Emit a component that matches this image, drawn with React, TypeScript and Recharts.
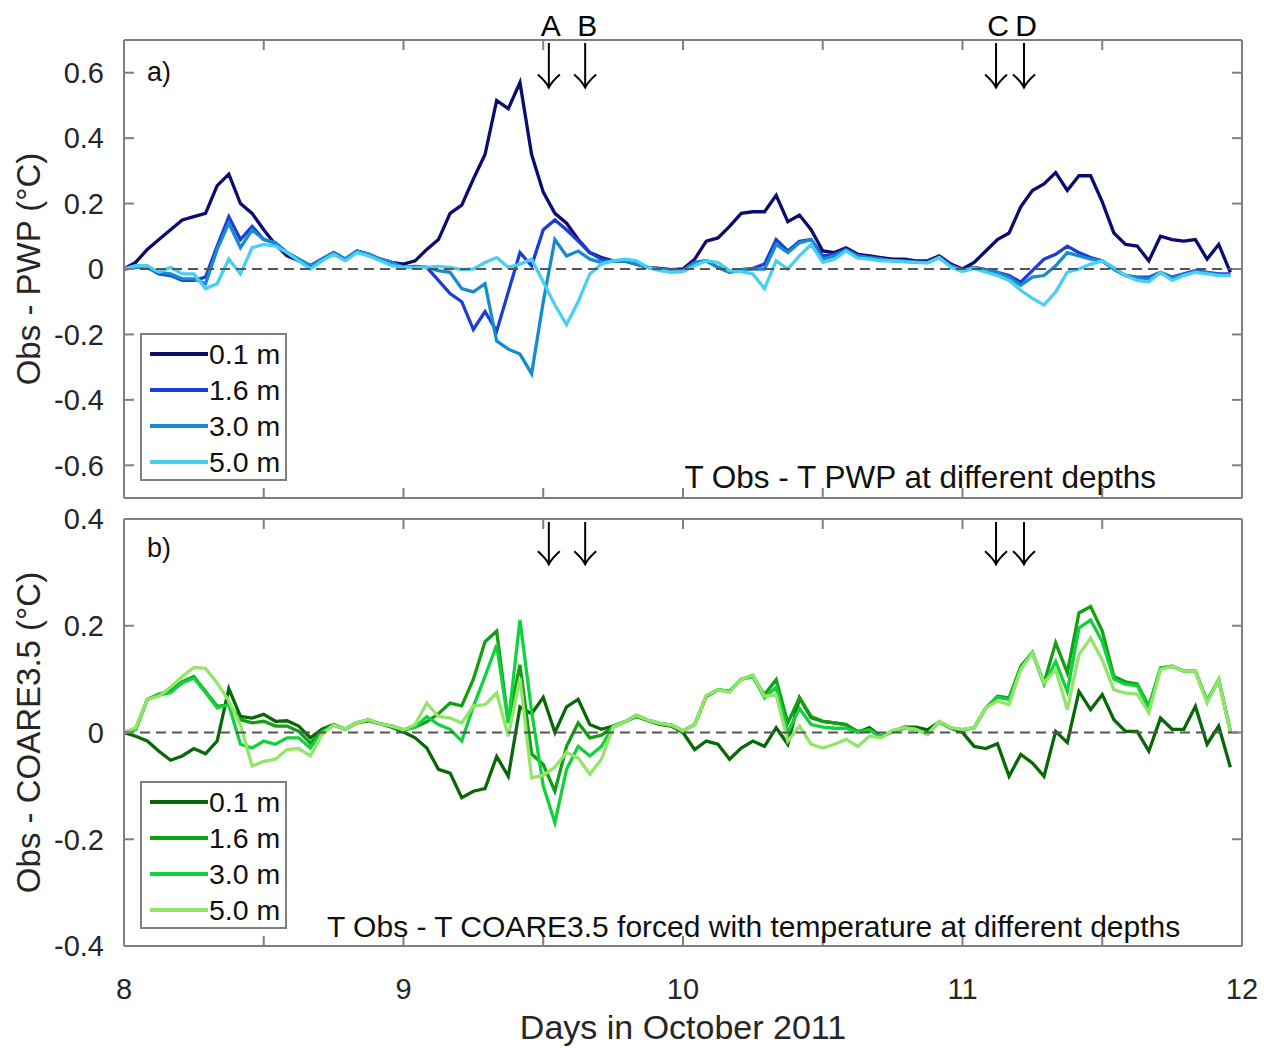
import React from 'react';
import { LineChart, Line, XAxis, YAxis, ReferenceLine, Legend } from 'recharts';

// ---- data (hourly samples starting at day 8.0 of October 2011) ----
const START_DAY = 8;
const HOURS_PER_DAY = 24;

// Panel a: T Obs - T PWP
const pwp01 = [
  0, 0.02, 0.06, 0.09, 0.12, 0.15, 0.16, 0.17, 0.255, 0.29, 0.2, 0.17, 0.12, 0.075, 0.04, 0.025, 0.01, 0.03, 0.05, 0.03, 0.055, 0.045, 0.03, 0.02, 0.015,
  0.025, 0.06, 0.09, 0.17, 0.195, 0.275, 0.35, 0.515, 0.49, 0.57, 0.35, 0.235, 0.17, 0.14, 0.09, 0.05, 0.035, 0.025, 0.025, 0.015, 0.005, 0.002, -0.002, 0.0,
  0.03, 0.085, 0.095, 0.13, 0.17, 0.175, 0.175, 0.225, 0.145, 0.165, 0.12, 0.055, 0.05, 0.065, 0.045, 0.04, 0.035, 0.03, 0.03, 0.025, 0.025, 0.04, 0.015, 0.0,
  0.02, 0.055, 0.09, 0.11, 0.19, 0.24, 0.26, 0.295, 0.24, 0.285, 0.285, 0.205, 0.11, 0.075, 0.07, 0.025, 0.1, 0.09, 0.085, 0.09, 0.03, 0.075, -0.01,
];
const pwp16 = [
  0, 0.005, 0.005, -0.015, -0.02, -0.035, -0.035, -0.025, 0.07, 0.16, 0.09, 0.13, 0.09, 0.08, 0.05, 0.03, 0.01, 0.03, 0.05, 0.03, 0.055, 0.045, 0.03, 0.02, 0.005,
  0.008, 0.005, -0.035, -0.075, -0.1, -0.185, -0.13, -0.19, -0.07, 0.05, 0.01, 0.12, 0.15, 0.12, 0.085, 0.05, 0.03, 0.025, 0.025, 0.015, 0.005, 0.0, -0.005, -0.005,
  0.02, 0.025, 0.005, -0.01, -0.002, 0.002, 0.015, 0.09, 0.055, 0.085, 0.09, 0.04, 0.045, 0.06, 0.04, 0.035, 0.03, 0.025, 0.025, 0.02, 0.02, 0.035, 0.01, -0.002,
  0.005, -0.002, -0.01, -0.02, -0.04, -0.005, 0.03, 0.045, 0.07, 0.05, 0.035, 0.025, 0.0, -0.02, -0.025, -0.025, -0.01, -0.025, -0.015, -0.005, -0.01, -0.015, -0.015,
];
const pwp30 = [
  0, 0.005, 0.005, -0.01, -0.015, -0.03, -0.03, -0.045, 0.06, 0.14, 0.065, 0.12, 0.09, 0.08, 0.05, 0.03, 0.01, 0.03, 0.05, 0.03, 0.055, 0.045, 0.03, 0.02, 0.005,
  0.005, 0.005, -0.005, -0.01, -0.06, -0.07, -0.045, -0.22, -0.245, -0.26, -0.32, -0.1, 0.09, 0.04, 0.055, 0.03, 0.02, 0.025, 0.025, 0.015, 0.005, 0.0, -0.005, -0.005,
  0.02, 0.025, 0.005, -0.01, -0.002, 0.0, 0.0, 0.075, 0.05, 0.08, 0.09, 0.03, 0.04, 0.058, 0.04, 0.035, 0.03, 0.025, 0.025, 0.02, 0.02, 0.035, 0.01, -0.004,
  0.004, -0.004, -0.012, -0.025, -0.05, -0.025, -0.02, 0.01, 0.05, 0.04, 0.03, 0.025, 0.0, -0.02, -0.027, -0.03, -0.012, -0.028, -0.017, -0.008, -0.012, -0.017, -0.018,
];
const pwp50 = [
  0, 0.01, 0.01, -0.01, 0.005, -0.015, -0.015, -0.06, -0.045, 0.03, -0.015, 0.065, 0.075, 0.07, 0.05, 0.025, 0.0, 0.025, 0.045, 0.025, 0.05, 0.04, 0.025, 0.01, 0.005,
  0.005, 0.005, 0.008, 0.005, -0.002, 0.0, 0.02, 0.035, 0.005, 0.015, 0.03, -0.04, -0.11, -0.17, -0.1, -0.015, 0.015, 0.025, 0.03, 0.025, 0.005, -0.005, -0.01, -0.008,
  0.01, 0.025, 0.02, -0.005, -0.008, -0.015, -0.06, 0.025, 0.0, 0.04, 0.075, 0.02, 0.03, 0.055, 0.033, 0.03, 0.025, 0.025, 0.022, 0.02, 0.018, 0.035, 0.005, -0.008,
  0.002, -0.01, -0.02, -0.035, -0.065, -0.09, -0.11, -0.07, -0.01, 0.0, 0.015, 0.025, 0.005, -0.02, -0.035, -0.04, -0.01, -0.035, -0.02, -0.01, -0.015, -0.02, -0.02,
];

// Panel b: T Obs - T COARE3.5
const coare01 = [
  0, -0.007, -0.016, -0.035, -0.052, -0.044, -0.03, -0.04, -0.016, 0.082, 0.03, 0.027, 0.034, 0.021, 0.022, 0.012, -0.01, 0.006, 0.015, 0.006, 0.018, 0.022, 0.016, 0.01, 0.001,
  -0.01, -0.029, -0.069, -0.076, -0.122, -0.11, -0.105, -0.045, -0.082, 0.048, 0.035, 0.066, 0.0, 0.048, 0.062, 0.015, 0.006, 0.012, 0.02, 0.03, 0.022, 0.015, 0.012, 0.0,
  -0.032, -0.016, -0.022, -0.05, -0.029, -0.016, -0.026, 0.009, -0.022, 0.065, 0.028, 0.021, 0.018, 0.015, 0.0, 0.009, -0.007, 0.002, 0.01, 0.01, 0.005, 0.02, 0.008, 0.0,
  -0.026, -0.03, -0.021, -0.082, -0.041, -0.057, -0.082, 0.002, -0.019, 0.077, 0.043, 0.071, 0.024, 0.002, 0.002, -0.035, 0.027, 0.006, 0.006, 0.049, -0.022, 0.012, -0.065,
];
const coare16 = [
  0, 0.006, 0.062, 0.072, 0.078, 0.095, 0.105, 0.077, 0.049, 0.052, 0.024, 0.018, 0.021, 0.012, 0.012, 0.002, -0.02, 0.002, 0.014, 0.006, 0.018, 0.024, 0.016, 0.012, 0.005,
  0.01, 0.02, 0.035, 0.055, 0.05, 0.1, 0.17, 0.19, 0.018, 0.127, -0.04, -0.06, -0.11, -0.026, 0.018, -0.01, -0.005, 0.01, 0.02, 0.032, 0.023, 0.017, 0.014, 0.003,
  0.015, 0.068, 0.08, 0.077, 0.1, 0.105, 0.071, 0.099, 0.018, 0.065, 0.03, 0.021, 0.018, 0.015, 0.002, 0.005, -0.008, 0.002, 0.008, 0.006, -0.003, 0.02, 0.008, 0.005,
  0.009, 0.046, 0.068, 0.065, 0.124, 0.15, 0.093, 0.168, 0.112, 0.224, 0.236, 0.19, 0.105, 0.095, 0.091, 0.049, 0.121, 0.124, 0.115, 0.115, 0.059, 0.099, 0.002,
];
const coare30 = [
  0, 0.006, 0.062, 0.07, 0.075, 0.093, 0.102, 0.075, 0.046, 0.052, -0.022, -0.029, -0.016, -0.022, -0.01, -0.01, -0.029, 0.0, 0.014, 0.006, 0.018, 0.024, 0.016, 0.012, 0.005,
  0.01, 0.03, 0.015, 0.006, -0.016, 0.049, 0.105, 0.164, 0.018, 0.211, 0.04, -0.1, -0.169, -0.069, -0.026, -0.044, -0.026, 0.012, 0.02, 0.032, 0.023, 0.017, 0.014, 0.003,
  0.015, 0.068, 0.08, 0.077, 0.1, 0.105, 0.065, 0.085, 0.0, 0.045, 0.015, 0.01, 0.008, 0.008, 0.0, 0.005, -0.008, 0.002, 0.008, 0.006, -0.003, 0.02, 0.008, 0.005,
  0.009, 0.046, 0.066, 0.062, 0.12, 0.15, 0.09, 0.133, 0.077, 0.196, 0.211, 0.17, 0.1, 0.09, 0.088, 0.045, 0.12, 0.124, 0.115, 0.115, 0.058, 0.099, 0.002,
];
const coare50 = [
  0, 0.009, 0.062, 0.068, 0.085, 0.105, 0.122, 0.12, 0.093, 0.059, 0.015, -0.063, -0.054, -0.05, -0.032, -0.03, -0.044, -0.004, 0.014, 0.006, 0.018, 0.024, 0.016, 0.012, 0.005,
  0.015, 0.055, 0.03, 0.027, 0.018, 0.05, 0.052, 0.074, -0.007, 0.102, -0.085, -0.08, -0.065, -0.037, -0.048, -0.078, -0.05, 0.01, 0.02, 0.032, 0.023, 0.017, 0.014, 0.003,
  0.015, 0.07, 0.08, 0.075, 0.1, 0.108, 0.068, 0.07, -0.016, 0.012, -0.022, -0.029, -0.022, -0.013, -0.026, -0.007, -0.01, 0.004, 0.009, 0.006, -0.004, 0.021, 0.009, 0.006,
  0.009, 0.046, 0.059, 0.052, 0.118, 0.149, 0.093, 0.118, 0.043, 0.146, 0.177, 0.136, 0.08, 0.074, 0.072, 0.037, 0.118, 0.124, 0.115, 0.115, 0.055, 0.099, 0.0,
];

const depthLabels = ['0.1 m', '1.6 m', '3.0 m', '5.0 m'];
const blueColors = ['#0b0b70', '#1c3ed3', '#178bcf', '#48cff2'];
const greenColors = ['#086808', '#12a012', '#10d23c', '#92e569'];

const xTicks = [8, 8.5, 9, 9.5, 10, 10.5, 11, 11.5, 12];
const yTicksA = [-0.6, -0.4, -0.2, 0, 0.2, 0.4, 0.6];
const yTicksB = [-0.4, -0.2, 0, 0.2, 0.4];
const eventDays = [9.52, 9.65, 11.12, 11.22];
const eventLabels = ['A', 'B', 'C', 'D'];

const titleA = 'T Obs - T PWP at different depths';
const titleB = 'T Obs - T COARE3.5 forced with temperature at different depths';
const yTitleA = 'Obs - PWP (°C)';
const yTitleB = 'Obs - COARE3.5 (°C)';
const xTitle = 'Days in October 2011';

// ---- build rows ----
const days = pwp01.map((_, i) => START_DAY + i / HOURS_PER_DAY);
const keys = ['s0', 's1', 's2', 's3'];
const dataA = days.map((d, i) => ({ day: d, s0: pwp01[i], s1: pwp16[i], s2: pwp30[i], s3: pwp50[i] }));
const dataB = days.map((d, i) => ({ day: d, s0: coare01[i], s1: coare16[i], s2: coare30[i], s3: coare50[i] }));

// ---- style ----
const FONT = '"Liberation Sans", Arial, Helvetica, sans-serif';
const BOX = '#7f7f7f';
const TICK_TXT = '#262626';
const W = 1264;

const fmtX = (v: number) => (Number.isInteger(v) ? String(v) : '');
const fmtY = (v: number) => {
  const r = Math.round(v * 10) / 10;
  return r === 0 ? '0' : String(r);
};
const fmtNone = () => '';
const emptyTick = () => <g />;

const makeArrow = (label: string | null) => (props: any) => {
  const { x1, y1, x2, y2 } = props;
  return (
    <g>
      <line x1={x1} y1={y1 + 3} x2={x2} y2={y2} stroke="#000" strokeWidth={2} />
      <path
        d={`M${x2 - 11},${y2 - 13} Q${x2 - 3},${y2 - 6} ${x2},${y2} Q${x2 + 3},${y2 - 6} ${x2 + 11},${y2 - 13}`}
        fill="none"
        stroke="#000"
        strokeWidth={2}
      />
      {label ? (
        <text x={x1 + 2} y={y1 - 4} textAnchor="middle" fontSize={30} fontFamily={FONT} fill="#000">
          {label}
        </text>
      ) : null}
    </g>
  );
};

const yTitle = (text: string) => (props: any) => {
  const vb = props && props.viewBox ? props.viewBox : null;
  const cy = vb ? vb.y + vb.height / 2 : 270;
  return (
    <text
      x={28}
      y={cy}
      transform={`rotate(-90 28 ${cy})`}
      textAnchor="middle"
      dominantBaseline="central"
      fontSize={33}
      fontFamily={FONT}
      fill={TICK_TXT}
    >
      {text}
    </text>
  );
};

const xTitleContent = (props: any) => {
  const vb = props && props.viewBox ? props.viewBox : null;
  const cx = vb ? vb.x + vb.width / 2 : 683;
  return (
    <text x={cx} y={539} textAnchor="middle" fontSize={34} fontFamily={FONT} fill={TICK_TXT}>
      {xTitle}
    </text>
  );
};

const LegendBox = ({ colors }: { colors: string[] }) => (
  <div
    style={{
      position: 'relative',
      width: 147,
      height: 148,
      boxSizing: 'border-box',
      border: `2px solid ${BOX}`,
      background: '#fff',
      fontFamily: FONT,
    }}
  >
    {depthLabels.map((lab, k) => (
      <div
        key={lab}
        style={{ position: 'absolute', left: 8, top: 19 + 36 * k - 18, height: 36, display: 'flex', alignItems: 'center' }}
      >
        <div style={{ width: 58, height: 4, background: colors[k] }} />
        <span style={{ fontSize: 28.5, color: '#111', marginLeft: 1, lineHeight: '36px', whiteSpace: 'nowrap' }}>{lab}</span>
      </div>
    ))}
  </div>
);

const boxStroke = { stroke: BOX, strokeWidth: 2 };
const tickStyle = { fontSize: 29, fill: TICK_TXT, fontFamily: FONT };

function Panel({
  data,
  colors,
  height,
  margin,
  yDomain,
  yTicks,
  arrowTop,
  arrowBottom,
  showLabels,
  showXLabels,
  yTitleText,
  legendTop,
}: any) {
  return (
    <LineChart width={W} height={height} data={data} margin={margin}>
      {/* data x axis: labels only */}
      <XAxis
        xAxisId="b"
        type="number"
        dataKey="day"
        domain={[8, 12]}
        allowDataOverflow
        ticks={xTicks}
        tickFormatter={fmtX}
        interval={0}
        height={50}
        hide={!showXLabels}
        tick={tickStyle}
        tickSize={0}
        tickMargin={32}
        axisLine={false}
        tickLine={false}
        label={showXLabels ? { content: xTitleContent } : undefined}
      />
      {/* box: bottom edge with inward ticks */}
      <XAxis
        xAxisId="bm"
        orientation="bottom"
        mirror
        type="number"
        dataKey="day"
        domain={[8, 12]}
        allowDataOverflow
        ticks={xTicks}
        interval={0}
        height={30}
        tick={emptyTick}
        tickFormatter={fmtNone}
        tickSize={10}
        axisLine={boxStroke}
        tickLine={boxStroke}
      />
      {/* box: top edge with inward ticks */}
      <XAxis
        xAxisId="tm"
        orientation="top"
        mirror
        type="number"
        dataKey="day"
        domain={[8, 12]}
        allowDataOverflow
        ticks={xTicks}
        interval={0}
        height={30}
        tick={emptyTick}
        tickFormatter={fmtNone}
        tickSize={10}
        axisLine={boxStroke}
        tickLine={boxStroke}
      />
      {/* data y axis: labels only */}
      <YAxis
        yAxisId="l"
        type="number"
        domain={yDomain}
        allowDataOverflow
        ticks={yTicks}
        interval={0}
        tickFormatter={fmtY}
        width={60}
        tick={tickStyle}
        tickSize={0}
        tickMargin={20}
        axisLine={false}
        tickLine={false}
        label={{ content: yTitle(yTitleText) }}
      />
      {/* box: left edge with inward ticks */}
      <YAxis
        yAxisId="lm"
        orientation="left"
        mirror
        type="number"
        domain={yDomain}
        allowDataOverflow
        ticks={yTicks}
        interval={0}
        width={30}
        tick={emptyTick}
        tickFormatter={fmtNone}
        tickSize={10}
        axisLine={boxStroke}
        tickLine={boxStroke}
      />
      {/* box: right edge with inward ticks */}
      <YAxis
        yAxisId="rm"
        orientation="right"
        mirror
        type="number"
        domain={yDomain}
        allowDataOverflow
        ticks={yTicks}
        interval={0}
        width={30}
        tick={emptyTick}
        tickFormatter={fmtNone}
        tickSize={10}
        axisLine={boxStroke}
        tickLine={boxStroke}
      />
      <Legend
        layout="vertical"
        align="center"
        verticalAlign="middle"
        wrapperStyle={{ left: 140, top: legendTop, width: 147, height: 148 }}
        content={() => <LegendBox colors={colors} />}
      />
      {keys.map((k, idx) => (
        <Line
          key={k}
          xAxisId="b"
          yAxisId="l"
          type="linear"
          dataKey={k}
          name={depthLabels[idx]}
          stroke={colors[idx]}
          strokeWidth={3.3}
          dot={false}
          activeDot={false}
          isAnimationActive={false}
        />
      ))}
      <ReferenceLine
        xAxisId="b"
        yAxisId="l"
        y={0}
        stroke="#555"
        strokeWidth={2}
        strokeDasharray="10 6"
      />
      {eventDays.map((d, k) => (
        <ReferenceLine
          key={`ev${k}`}
          xAxisId="b"
          yAxisId="l"
          ifOverflow="visible"
          segment={[
            { x: d, y: arrowTop },
            { x: d, y: arrowBottom },
          ]}
          shape={makeArrow(showLabels ? eventLabels[k] : null)}
        />
      ))}
    </LineChart>
  );
}

export default function App() {
  return (
    <div
      style={{
        position: 'absolute',
        left: 0,
        top: 0,
        width: W,
        height: 1048,
        background: '#fff',
        fontFamily: FONT,
        overflow: 'hidden',
      }}
    >
      <div style={{ position: 'absolute', left: 0, top: 0 }}>
        <Panel
          data={dataA}
          colors={blueColors}
          height={520}
          margin={{ top: 40, right: 22, bottom: 22, left: 64 }}
          yDomain={[-0.7, 0.7]}
          yTicks={yTicksA}
          arrowTop={0.7}
          arrowBottom={0.555}
          showLabels
          showXLabels={false}
          yTitleText={yTitleA}
          legendTop={333}
        />
      </div>
      <div style={{ position: 'absolute', left: 0, top: 500 }}>
        <Panel
          data={dataB}
          colors={greenColors}
          height={548}
          margin={{ top: 19, right: 22, bottom: 52, left: 64 }}
          yDomain={[-0.4, 0.4]}
          yTicks={yTicksB}
          arrowTop={0.4}
          arrowBottom={0.315}
          showLabels={false}
          showXLabels
          yTitleText={yTitleB}
          legendTop={281}
        />
      </div>
      <svg
        width={W}
        height={1048}
        style={{ position: 'absolute', left: 0, top: 0, pointerEvents: 'none' }}
      >
        <text x={147} y={81} fontSize={27} fontFamily={FONT} fill="#111">a)</text>
        <text x={147} y={557} fontSize={27} fontFamily={FONT} fill="#111">b)</text>
        <text x={1156} y={488} textAnchor="end" fontSize={31.5} fontFamily={FONT} fill="#111">{titleA}</text>
        <text x={327} y={937} fontSize={30} fontFamily={FONT} fill="#111">{titleB}</text>
      </svg>
    </div>
  );
}
